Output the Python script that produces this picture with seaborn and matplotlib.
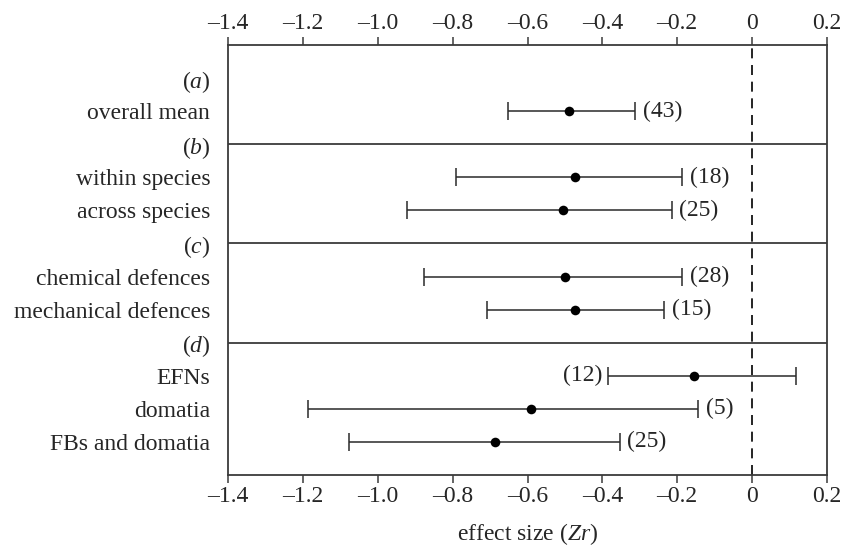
import matplotlib
matplotlib.use("Agg")
import matplotlib.pyplot as plt
import seaborn as sns
import numpy as np
import pandas as pd

# ---- data ----
row_labels = ["($\\mathit{a}$)", "overall mean",
              "($\\mathit{b}$)", "within species", "across species",
              "($\\mathit{c}$)", "chemical defences", "mechanical defences",
              "($\\mathit{d}$)", "EFNs", "domatia", "FBs and domatia"]
categories = ["overall mean", "within species", "across species",
              "chemical defences", "mechanical defences",
              "EFNs", "domatia", "FBs and domatia"]
mean_zr = [-0.488, -0.472, -0.506, -0.499, -0.472, -0.156, -0.591, -0.686]
ci_low = [-0.653, -0.791, -0.921, -0.876, -0.707, -0.385, -1.186, -1.077]
ci_high = [-0.312, -0.186, -0.214, -0.186, -0.234, 0.118, -0.144, -0.354]
n_studies = [43, 18, 25, 28, 15, 12, 5, 25]
headers = ["($\\mathit{b}$)", "($\\mathit{c}$)", "($\\mathit{d}$)"]
x_ticks = [-1.4, -1.2, -1.0, -0.8, -0.6, -0.4, -0.2, 0.0, 0.2]
x_ticklabels = ["\u20131.4", "\u20131.2", "\u20131.0", "\u20130.8", "\u20130.6",
                "\u20130.4", "\u20130.2", "0", "0.2"]

df = pd.DataFrame({"category": categories, "mean": mean_zr,
                   "lo": ci_low, "hi": ci_high, "n": n_studies})
df["y"] = [row_labels.index(c) for c in df["category"]]

# ---- style ----
sns.set_theme(style="white")
plt.rcParams["font.family"] = ["Liberation Serif", "DejaVu Serif"]
plt.rcParams["mathtext.fontset"] = "custom"
plt.rcParams["mathtext.rm"] = "Liberation Serif"
plt.rcParams["mathtext.it"] = "Liberation Serif:italic"

fig = plt.figure(figsize=(8.51, 5.49), dpi=100)
ax = fig.add_axes([228.3 / 851, 1 - 475 / 549, (826.7 - 228.3) / 851, (475 - 45) / 549])

fs = 17
frame_col = "#3a3a3a"

# error bars
ax.errorbar(df["mean"], df["y"],
            xerr=[df["mean"] - df["lo"], df["hi"] - df["mean"]],
            fmt="none", ecolor="#2a2a2a", elinewidth=1.1, capsize=6.5, capthick=1.1, zorder=2)
# points
sns.scatterplot(data=df, x="mean", y="y", ax=ax, color="black", s=48,
                edgecolor="black", linewidth=0, zorder=3, legend=False)

# n labels
for _, r in df.iterrows():
    if r["category"] == "EFNs":
        ax.text(r["lo"] - 0.015, r["y"], f"({r['n']})", ha="right", va="center", fontsize=fs)
    else:
        ax.text(r["hi"] + 0.02, r["y"], f"({r['n']})", ha="left", va="center", fontsize=fs)

# section separators
for h in headers:
    ax.axhline(row_labels.index(h), color=frame_col, lw=1.3, zorder=1)
# zero line
ax.axvline(0, color="black", lw=1.2, ls=(0, (6, 4)), zorder=1)

ax.set_xlim(-1.4, 0.2)
ax.set_ylim(len(row_labels), -1)
ax.set_yticks(range(len(row_labels)))
ax.set_yticklabels(row_labels, fontsize=fs)
ax.set_xticks(x_ticks)
ax.set_xticklabels(x_ticklabels, fontsize=fs)
ax.tick_params(axis="y", length=0, pad=13)
ax.tick_params(axis="x", which="both", direction="out", length=6, width=1.1,
               color=frame_col, top=True, bottom=True, labeltop=True, labelbottom=True, pad=2)
for s in ax.spines.values():
    s.set_color(frame_col)
    s.set_linewidth(1.3)
ax.set_ylabel("")
ax.set_xlabel("effect size ($\\mathit{Zr}$)", fontsize=fs, labelpad=10)

fig.savefig("out.png", dpi=100)
